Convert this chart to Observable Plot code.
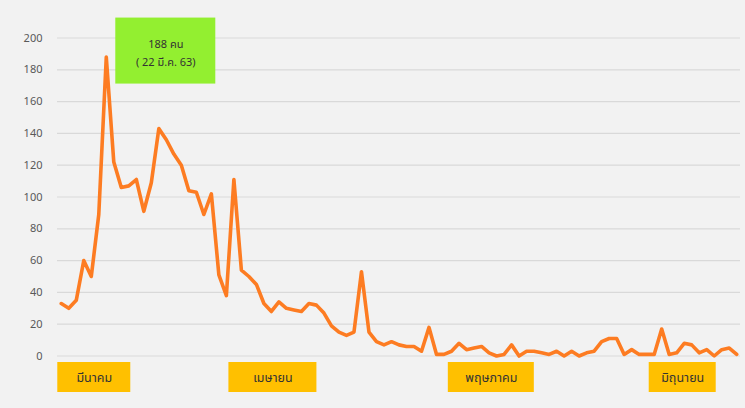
<!DOCTYPE html>
<html>
<head>
<meta charset="utf-8">
<script src="https://cdn.jsdelivr.net/npm/d3@7"></script>
<script src="https://cdn.jsdelivr.net/npm/@observablehq/plot@0.6"></script>
<style>
  html, body { margin: 0; padding: 0; background: #f2f2f2; }
  #chart svg { display: block; }
</style>
</head>
<body>
<div id="chart"></div>
<script>
// Daily new cases, 16 Mar 2020 – 14 Jun 2020 (one value per day)
const cases = [
  33, 30, 35, 60, 50, 89, 188, 122, 106, 107,
  111, 91, 109, 143, 136, 127, 120, 104, 103, 89,
  102, 51, 38, 111, 54, 50, 45, 33, 28, 34,
  30, 29, 28, 33, 32, 27, 19, 15, 13, 15,
  53, 15, 9, 7, 9, 7, 6, 6, 3, 18,
  1, 1, 3, 8, 4, 5, 6, 2, 0, 1,
  7, 0, 3, 3, 2, 1, 3, 0, 3, 0,
  2, 3, 9, 11, 11, 1, 4, 1, 1, 1,
  17, 1, 2, 8, 7, 2, 4, 0, 4, 5, 1
];
const yTicks = [0, 20, 40, 60, 80, 100, 120, 140, 160, 180, 200];
const monthLabels = ["มีนาคม", "เมษายน", "พฤษภาคม", "มิถุนายน"];
const monthLabelDay = [4.4, 28.2, 57.3, 82.8];   // day index under which each label sits
const peakLabel = ["188 คน", "( 22 มี.ค. 63)"];

// ---- layout (pixels) ----
const W = 745, H = 408;
const mL = 57, mR = 5, mT = 37.5, mB = 52.5;
const pxPerDay = (W - mL - mR) / cases.length;
const pxPerUnit = (H - mT - mB) / 200;
const monthBoxW = [73, 88, 86, 67];
const boxTopPx = 6.5, boxBotPx = 36.5;   // below the zero line

const peakIdx = d3.maxIndex(cases);
const peakVal = cases[peakIdx];

const monthData = monthLabels.map((m, i) => ({
  label: m,
  x: monthLabelDay[i],
  x1: monthLabelDay[i] - monthBoxW[i] / 2 / pxPerDay,
  x2: monthLabelDay[i] + monthBoxW[i] / 2 / pxPerDay
}));
const yOf = px => -px / pxPerUnit;

// annotation box relative to the peak point (px offsets)
const annX1 = peakIdx + 9.5 / pxPerDay, annX2 = peakIdx + 109.5 / pxPerDay;
const annY1 = peakVal + 39 / pxPerUnit, annY2 = peakVal - 27 / pxPerUnit;
const annCx = (annX1 + annX2) / 2;

const font = "Tahoma, 'Leelawadee UI', 'Noto Sans Thai', 'Noto Sans', 'DejaVu Sans', sans-serif";

const chart = Plot.plot({
  width: W, height: H,
  marginLeft: mL, marginRight: mR, marginTop: mT, marginBottom: mB,
  style: { background: "#f2f2f2", fontFamily: font, overflow: "visible" },
  x: { domain: [-0.5, cases.length - 0.5], axis: null },
  y: { domain: [0, 200], axis: null },
  marks: [
    Plot.ruleY(yTicks, { stroke: "#d9d9d9", strokeWidth: 1.2 }),
    Plot.axisY(yTicks, { tickSize: 0, tickPadding: 15, fontSize: 11, fill: "#595959", label: null }),
    Plot.line(cases, {
      x: (d, i) => i, y: d => d,
      stroke: "#fd7c22", strokeWidth: 3.6, strokeLinejoin: "round", strokeLinecap: "round", curve: "linear"
    }),
    Plot.rect(monthData, { x1: "x1", x2: "x2", y1: yOf(boxTopPx), y2: yOf(boxBotPx), fill: "#ffc000" }),
    Plot.text(monthData, { x: "x", y: yOf((boxTopPx + boxBotPx) / 2), text: "label", fontSize: 12.5, fill: "#333" }),
    Plot.rect([0], { x1: annX1, x2: annX2, y1: annY1, y2: annY2, fill: "#93ef30" }),
    Plot.text([peakLabel.join("\n")], {
      x: annCx, y: peakVal + 6 / pxPerUnit, text: d => d, lineHeight: 1.6,
      fontSize: 11, fill: "#333", lineAnchor: "middle"
    })
  ]
});
document.getElementById("chart").appendChild(chart);
</script>
</body>
</html>
